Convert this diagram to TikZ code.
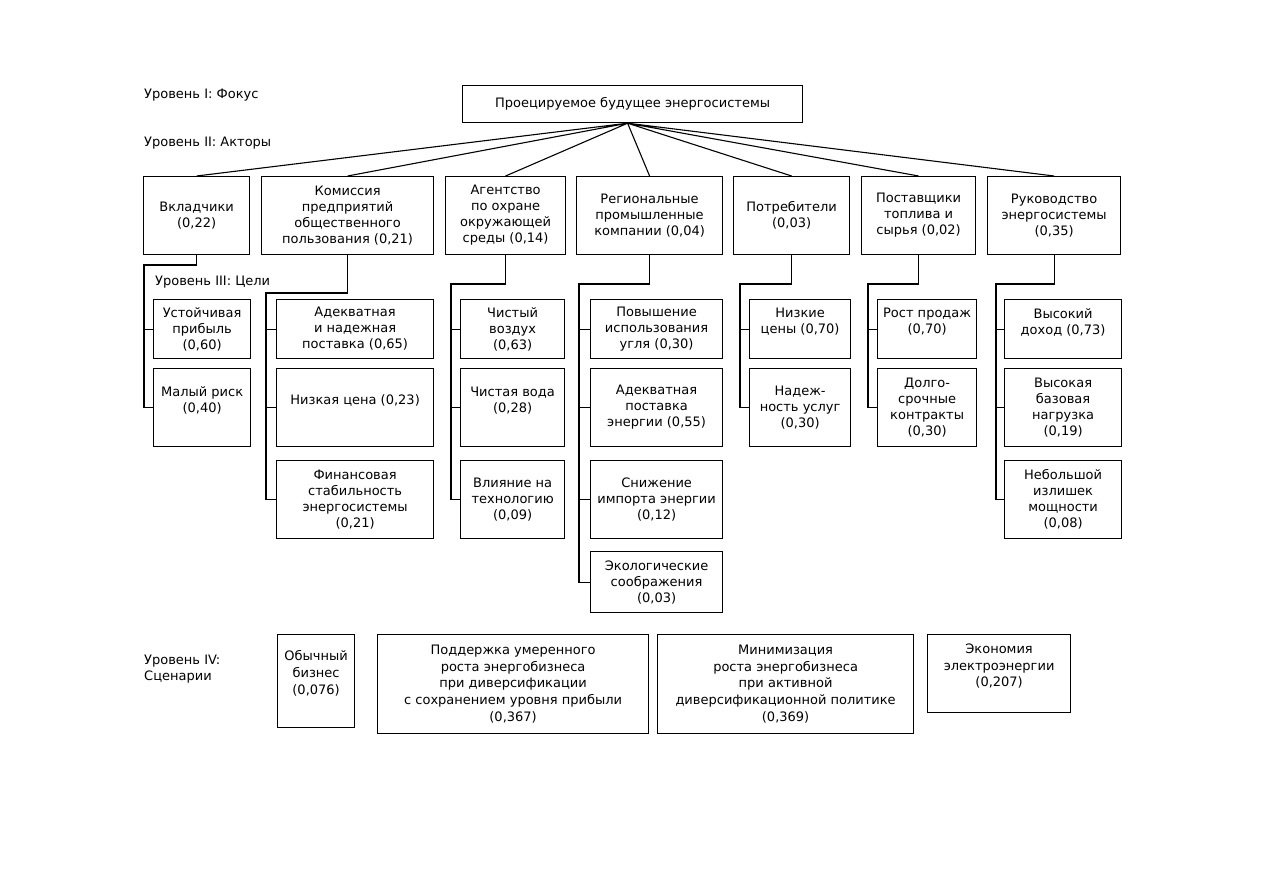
\documentclass[tikz,border=0pt]{standalone}
\usepackage{fontspec}
\setmainfont{DejaVu Sans}
\usetikzlibrary{positioning}

\begin{document}
\begin{tikzpicture}[x=1pt, y=-1pt,
		every node/.style={font=\fontsize{13}{16}\selectfont},
		box/.style={draw, line width=1.2pt, inner sep=0pt, align=center, anchor=north west},
		scen/.style={box, font=\fontsize{13}{16.8}\selectfont},
		lvl/.style={inner sep=0pt, anchor=west, align=left},
		link/.style={line width=1.1pt}]
		\fill[white] (0,0) rectangle (1263,893);
		\useasboundingbox (0,0) rectangle (1263,893);
		% levels
		\node[lvl] (lvlI) at (144,95) {Уровень I: Фокус};
		\node[lvl] (lvlII) at (144,143) {Уровень II: Акторы};
		\node[lvl] (lvlIII) at (155,282) {Уровень III: Цели};
		\node[lvl] (lvlIV) at (144,669) {Уровень IV:\\Сценарии};
		% focus
		\node[box, minimum width=340, minimum height=37] (focus) at (462,85) {Проецируемое будущее энергосистемы};
		\coordinate (apex) at ([xshift=-5pt]focus.south);
		% actors
		\node[box, minimum width=106, minimum height=78] (vkl) at (143,176) {Вкладчики\\(0,22)};
		\node[box, minimum width=172, minimum height=78] (kom) at (261,176) {Комиссия\\предприятий\\общественного\\пользования (0,21)};
		\node[box, minimum width=120, minimum height=78] (agn) at (445,176) {Агентство\\по охране\\окружающей\\среды (0,14)};
		\node[box, minimum width=146, minimum height=78] (reg) at (576,176) {Региональные\\промышленные\\компании (0,04)};
		\node[box, minimum width=116, minimum height=78] (pot) at (733,176) {Потребители\\(0,03)};
		\node[box, minimum width=114, minimum height=78] (pst) at (861,176) {Поставщики\\топлива и\\сырья (0,02)};
		\node[box, minimum width=133, minimum height=78] (ruk) at (987,176) {Руководство\\энергосистемы\\(0,35)};
		\draw[link] (apex) -- (vkl.north) (apex) -- (kom.north) (apex) -- (agn.north) (apex) -- (reg.north)
			(apex) -- (pot.north) (apex) -- (pst.north) (apex) -- (ruk.north);
		% goals
		\node[box, minimum width=97, minimum height=59] (ust) at (153,299) {Устойчивая\\прибыль\\(0,60)};
		\node[box, minimum width=97, minimum height=78] (mal) at (153,368) {Малый риск\\(0,40)\\\mbox{}};
		\node[box, minimum width=157, minimum height=59] (adk) at (276,299) {Адекватная\\и надежная\\поставка (0,65)};
		\node[box, minimum width=157, minimum height=78] (niz) at (276,368) {Низкая цена (0,23)\\\mbox{}};
		\node[box, minimum width=157, minimum height=78] (fin) at (276,460) {Финансовая\\стабильность\\энергосистемы\\(0,21)};
		\node[box, minimum width=104, minimum height=59] (vzd) at (460,299) {Чистый\\воздух\\(0,63)};
		\node[box, minimum width=104, minimum height=78] (vod) at (460,368) {Чистая вода\\(0,28)\\\mbox{}};
		\node[box, minimum width=104, minimum height=78] (vli) at (460,460) {Влияние на\\технологию\\(0,09)};
		\node[box, minimum width=132, minimum height=59] (ugl) at (590,299) {Повышение\\использования\\угля (0,30)};
		\node[box, minimum width=132, minimum height=78] (pen) at (590,368) {Адекватная\\поставка\\энергии (0,55)};
		\node[box, minimum width=132, minimum height=78] (imp) at (590,460) {Снижение\\импорта энергии\\(0,12)};
		\node[box, minimum width=132, minimum height=61] (eco) at (590,551) {Экологические\\соображения\\(0,03)};
		\node[box, minimum width=101, minimum height=59] (cen) at (749,299) {Низкие\\цены (0,70)\\\mbox{}};
		\node[box, minimum width=101, minimum height=78] (nad) at (749,368) {Надеж-\\ность услуг\\(0,30)};
		\node[box, minimum width=99, minimum height=59] (prd) at (877,299) {Рост продаж\\(0,70)\\\mbox{}};
		\node[box, minimum width=99, minimum height=78] (dlg) at (877,368) {Долго-\\срочные\\контракты\\(0,30)};
		\node[box, minimum width=117, minimum height=59] (dox) at (1004,299) {Высокий\\доход (0,73)\\\mbox{}};
		\node[box, minimum width=117, minimum height=78] (baz) at (1004,368) {Высокая\\базовая\\нагрузка\\(0,19)};
		\node[box, minimum width=117, minimum height=78] (izl) at (1004,460) {Небольшой\\излишек\\мощности\\(0,08)};
		% actor to goals
		\coordinate (kvkl) at (144,265);
		\coordinate (kkom) at (266,293);
		\coordinate (kagn) at (451,284);
		\coordinate (kreg) at (579,284);
		\coordinate (kpot) at (740,284);
		\coordinate (kpst) at (868,284);
		\coordinate (kruk) at (996,284);
		\draw[link] (vkl.south) |- (kvkl) |- (ust.west) (kvkl) |- (mal.west);
		\draw[link] (kom.south) |- (kkom) |- (adk.west) (kkom) |- (niz.west) (kkom) |- (fin.west);
		\draw[link] (agn.south) |- (kagn) |- (vzd.west) (kagn) |- (vod.west) (kagn) |- (vli.west);
		\draw[link] (reg.south) |- (kreg) |- (ugl.west) (kreg) |- (pen.west) (kreg) |- (imp.west) (kreg) |- (eco.west);
		\draw[link] (pot.south) |- (kpot) |- (cen.west) (kpot) |- (nad.west);
		\draw[link] (pst.south) |- (kpst) |- (prd.west) (kpst) |- (dlg.west);
		\draw[link] (ruk.south) |- (kruk) |- (dox.west) (kruk) |- (baz.west) (kruk) |- (izl.west);
		% scenarios
		\node[scen, minimum width=77, minimum height=93] (obb) at (277,634) {Обычный\\бизнес\\(0,076)\\\mbox{}};
		\node[scen, minimum width=271, minimum height=99] (pod) at (377,634) {Поддержка умеренного\\роста энергобизнеса\\при диверсификации\\с сохранением уровня прибыли\\(0,367)};
		\node[scen, minimum width=256, minimum height=99] (mnm) at (657,634) {Минимизация\\роста энергобизнеса\\при активной\\диверсификационной политике\\(0,369)};
		\node[scen, minimum width=143, minimum height=78] (ekn) at (927,634) {Экономия\\электроэнергии\\(0,207)\\\mbox{}};
	\end{tikzpicture}
\end{document}
